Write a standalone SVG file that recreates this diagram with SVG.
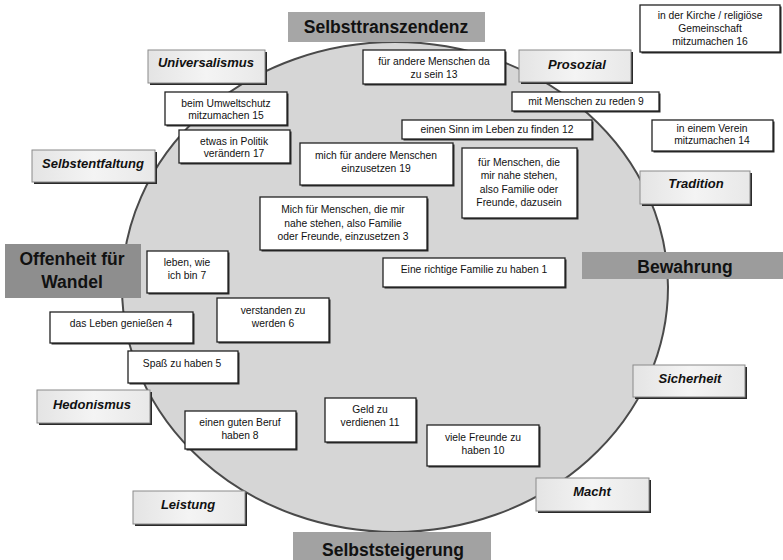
<svg xmlns="http://www.w3.org/2000/svg" width="783" height="560" viewBox="0 0 783 560">
<defs>
<linearGradient id="lab" x1="0" y1="0" x2="1" y2="0">
<stop offset="0" stop-color="#e4e4e4"/><stop offset="0.5" stop-color="#f4f4f4"/><stop offset="1" stop-color="#e8e8e8"/>
</linearGradient>
<style>
.sh{fill:#2a2a2a}
.box{fill:#fff;stroke:#222;stroke-width:1.3}
.lab{fill:url(#lab);stroke:#8a8a8a;stroke-width:1}
.t{font-family:"Liberation Sans",Arial,sans-serif;font-size:10.3px;fill:#111;text-anchor:middle}
.c{font-family:"Liberation Sans",Arial,sans-serif;font-size:13px;font-weight:bold;font-style:italic;fill:#111;text-anchor:middle}
.b{font-family:"Liberation Sans",Arial,sans-serif;font-size:17.5px;font-weight:bold;fill:#111;text-anchor:middle}
</style>
</defs>
<rect width="783" height="560" fill="#fff"/>
<ellipse cx="395" cy="287" rx="273" ry="245" fill="#d6d6d6" stroke="#4a4a4a" stroke-width="2"/>

<g id="connectors"/>

<g id="selbsttranszendenz"><rect x="288" y="12" width="197" height="30" fill="#a6a6a6"/><text class="b" x="386" y="33">Selbsttranszendenz</text></g>
<g id="bewahrung"><rect x="582" y="252" width="201" height="27" fill="#9c9c9c"/><text class="b" x="685" y="273">Bewahrung</text></g>
<g id="selbststeigerung"><rect x="293" y="532" width="198" height="28" fill="#a2a2a2"/><text class="b" x="393" y="556">Selbststeigerung</text></g>
<g id="offenheit"><rect x="5" y="244" width="136" height="54" fill="#8e8e8e"/><text class="b" x="72" y="265" font-size="18px">Offenheit für</text><text class="b" x="72" y="288" font-size="18px">Wandel</text></g>

<g id="universalismus"><rect class="sh" x="150" y="52" width="117" height="33"/><rect class="lab" x="148" y="50" width="117" height="33"/><text class="c" x="206" y="67">Universalismus</text></g>
<g id="selbstentfaltung"><rect class="sh" x="34" y="152" width="123" height="32"/><rect class="lab" x="32" y="150" width="123" height="32"/><text class="c" x="93" y="168">Selbstentfaltung</text></g>
<g id="prosozial"><rect class="sh" x="521" y="52" width="112" height="32"/><rect class="lab" x="519" y="50" width="112" height="32"/><text class="c" x="577" y="69">Prosozial</text></g>
<g id="tradition"><rect class="sh" x="642" y="173" width="110" height="33"/><rect class="lab" x="640" y="171" width="110" height="33"/><text class="c" x="696" y="188">Tradition</text></g>
<g id="sicherheit"><rect class="sh" x="635" y="367" width="112" height="32"/><rect class="lab" x="633" y="365" width="112" height="32"/><text class="c" x="690" y="383">Sicherheit</text></g>
<g id="macht"><rect class="sh" x="538" y="480" width="113" height="33"/><rect class="lab" x="536" y="478" width="113" height="33"/><text class="c" x="592" y="496">Macht</text></g>
<g id="leistung"><rect class="sh" x="135" y="493" width="112" height="33"/><rect class="lab" x="133" y="491" width="112" height="33"/><text class="c" x="188" y="509">Leistung</text></g>
<g id="hedonismus"><rect class="sh" x="39" y="392" width="113" height="33"/><rect class="lab" x="37" y="390" width="113" height="33"/><text class="c" x="92" y="409">Hedonismus</text></g>

<g id="n15"><rect class="sh" x="166.5" y="93.5" width="122" height="33"/><rect class="box" x="165" y="92" width="122" height="33"/><text class="t" x="226" y="107">beim Umweltschutz</text><text class="t" x="226" y="119">mitzumachen 15</text></g>
<g id="n17"><rect class="sh" x="180.5" y="131.5" width="111" height="33"/><rect class="box" x="179" y="130" width="111" height="33"/><text class="t" x="234" y="145">etwas in Politik</text><text class="t" x="234" y="157">verändern 17</text></g>
<g id="n13"><rect class="sh" x="364.5" y="51.5" width="142" height="34"/><rect class="box" x="363" y="50" width="142" height="34"/><text class="t" x="434" y="65">für andere Menschen da</text><text class="t" x="434" y="78">zu sein 13</text></g>
<g id="n16"><rect class="sh" x="641.5" y="6.5" width="140" height="47"/><rect class="box" x="640" y="5" width="140" height="47"/><text class="t" x="710" y="19">in der Kirche / religiöse</text><text class="t" x="710" y="32">Gemeinschaft</text><text class="t" x="710" y="45">mitzumachen 16</text></g>
<g id="n9"><rect class="sh" x="513.5" y="93.5" width="147" height="19"/><rect class="box" x="512" y="92" width="147" height="19"/><text class="t" x="586" y="105">mit Menschen zu reden 9</text></g>
<g id="n12"><rect class="sh" x="403.5" y="121.5" width="190" height="19"/><rect class="box" x="402" y="120" width="190" height="19"/><text class="t" x="497" y="133">einen Sinn im Leben zu finden 12</text></g>
<g id="n14"><rect class="sh" x="653.5" y="121.5" width="121" height="31"/><rect class="box" x="652" y="120" width="121" height="31"/><text class="t" x="712" y="132">in einem Verein</text><text class="t" x="712" y="144">mitzumachen 14</text></g>
<g id="n19"><rect class="sh" x="301.5" y="144.5" width="153" height="42"/><rect class="box" x="300" y="143" width="153" height="42"/><text class="t" x="376" y="159">mich für andere Menschen</text><text class="t" x="376" y="172">einzusetzen 19</text></g>
<g id="n2"><rect class="sh" x="463.5" y="149.5" width="115" height="70"/><rect class="box" x="462" y="148" width="115" height="70"/><text class="t" x="519" y="166">für Menschen, die</text><text class="t" x="519" y="179">mir nahe stehen,</text><text class="t" x="519" y="193">also Familie oder</text><text class="t" x="519" y="206">Freunde, dazusein</text></g>
<g id="n3"><rect class="sh" x="261.5" y="198.5" width="167" height="53"/><rect class="box" x="260" y="197" width="167" height="53"/><text class="t" x="343" y="213">Mich für Menschen, die mir</text><text class="t" x="343" y="227">nahe stehen, also Familie</text><text class="t" x="343" y="240">oder Freunde, einzusetzen 3</text></g>
<g id="n1"><rect class="sh" x="384.5" y="259.5" width="182" height="29"/><rect class="box" x="383" y="258" width="182" height="29"/><text class="t" x="474" y="273">Eine richtige Familie zu haben 1</text></g>
<g id="n7"><rect class="sh" x="148.5" y="252.5" width="81" height="42"/><rect class="box" x="147" y="251" width="81" height="42"/><text class="t" x="187" y="266">leben, wie</text><text class="t" x="187" y="279">ich bin 7</text></g>
<g id="n6"><rect class="sh" x="218.5" y="299.5" width="112" height="44"/><rect class="box" x="217" y="298" width="112" height="44"/><text class="t" x="273" y="314">verstanden zu</text><text class="t" x="273" y="327">werden 6</text></g>
<g id="n4"><rect class="sh" x="51.5" y="313.5" width="143" height="31"/><rect class="box" x="50" y="312" width="143" height="31"/><text class="t" x="121" y="327">das Leben genießen 4</text></g>
<g id="n5"><rect class="sh" x="129.5" y="352.5" width="110" height="32"/><rect class="box" x="128" y="351" width="110" height="32"/><text class="t" x="182" y="367">Spaß zu haben 5</text></g>
<g id="n8"><rect class="sh" x="186.5" y="412.5" width="111" height="38"/><rect class="box" x="185" y="411" width="111" height="38"/><text class="t" x="240" y="426">einen guten Beruf</text><text class="t" x="240" y="439">haben 8</text></g>
<g id="n11"><rect class="sh" x="326.5" y="399.5" width="91" height="44"/><rect class="box" x="325" y="398" width="91" height="44"/><text class="t" x="370" y="413">Geld zu</text><text class="t" x="370" y="426">verdienen 11</text></g>
<g id="n10"><rect class="sh" x="428.5" y="426.5" width="112" height="41"/><rect class="box" x="427" y="425" width="112" height="41"/><text class="t" x="483" y="441">viele Freunde zu</text><text class="t" x="483" y="454">haben 10</text></g>
</svg>
